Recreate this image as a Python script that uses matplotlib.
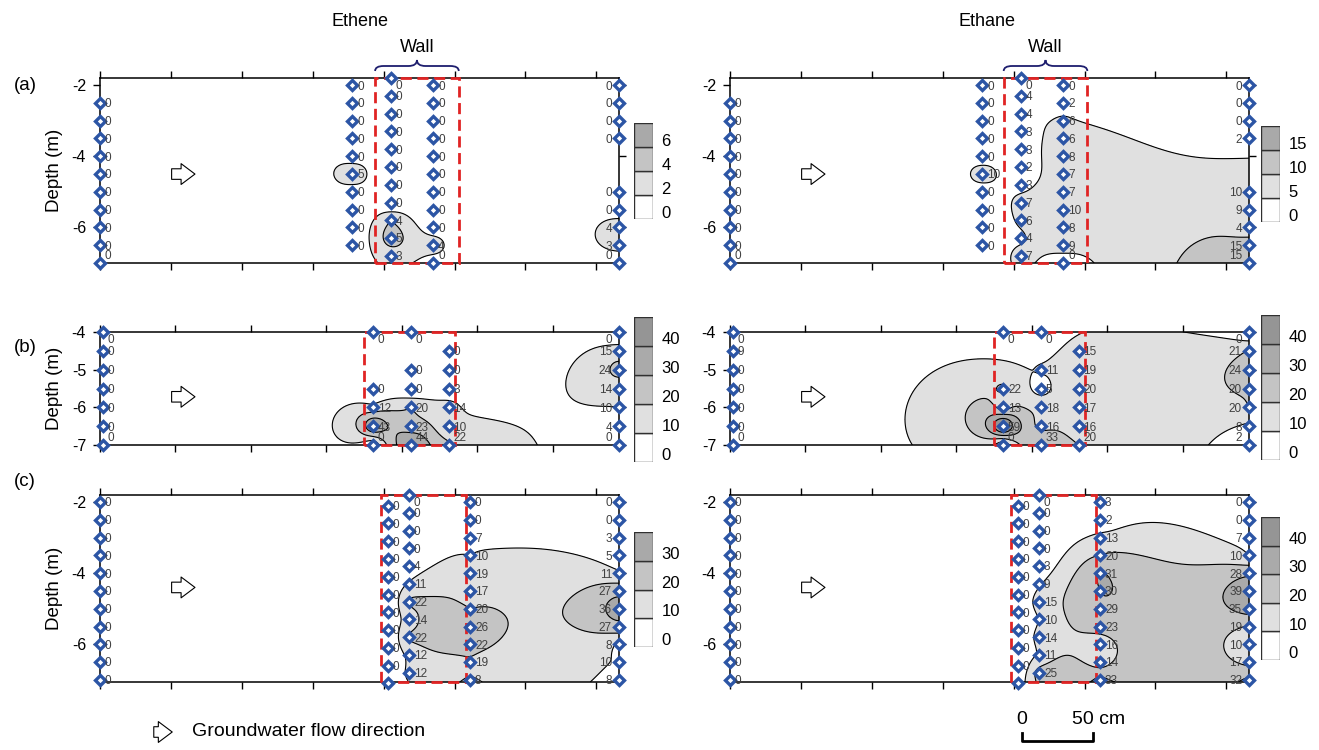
import numpy as np
import matplotlib
matplotlib.use('Agg')
import matplotlib.pyplot as plt
import matplotlib.transforms as mtrans
from matplotlib.patches import Rectangle, PathPatch, FancyArrowPatch
from matplotlib.path import Path

plt.rcParams['font.family'] = ['Liberation Sans', 'DejaVu Sans']
plt.rcParams['axes.unicode_minus'] = False

W, H = 1319, 750

# ---------------- Data ----------------
# row (a) / (c) depths (m)
d_full = [-2, -2.5, -3, -3.5, -4, -4.5, -5, -5.5, -6, -6.5, -7]
d_wall = [-1.8, -2.3, -2.8, -3.3, -3.8, -4.3, -4.8, -5.3, -5.8, -6.3, -6.8]
d_low = [-2.1, -2.6, -3.1, -3.6, -4.1, -4.6, -5.1, -5.6, -6.1, -6.6, -7.1]
d_a_edge = [-2, -2.5, -3, -3.5, -5, -5.5, -6, -6.5, -7]
# row (b) depths
d_b = [-4, -4.5, -5, -5.5, -6, -6.5, -7]
d_b1 = [-4, -5.5, -6, -6.5, -7]
d_b2 = [-4, -5, -5.5, -6, -6.5, -7]
d_b3 = [-4.5, -5, -5.5, -6, -6.5, -7]

# column positions (cm)
a_x = [0, 178, 205, 235, 366]
a_depths = [d_full[1:], d_full[:-1], d_wall, d_full, d_a_edge]
a_ethene = [[0] * 10,
            [0, 0, 0, 0, 0, 5, 0, 0, 0, 0],
            [0, 0, 0, 0, 0, 0, 0, 0, 4, 5, 3],
            [0, 0, 0, 0, 0, 0, 0, 0, 0, 4, 0],
            [0, 0, 0, 0, 0, 0, 4, 3, 0]]
a_ethane = [[0] * 10,
            [0, 0, 0, 0, 0, 10, 0, 0, 0, 0],
            [0, 4, 4, 3, 3, 2, 3, 7, 6, 4, 7],
            [0, 2, 6, 6, 8, 7, 7, 10, 8, 9, 0],
            [0, 0, 0, 2, 10, 9, 4, 15, 15]]

b_x = [2, 181, 206, 231, 344]
b_depths = [d_b, d_b1, d_b2, d_b3, d_b]
b_ethene = [[0] * 7,
            [0, 0, 12, 43, 0],
            [0, 0, 0, 20, 23, 44],
            [0, 0, 3, 14, 10, 22],
            [0, 15, 24, 14, 10, 4, 0]]
b_ethane = [[0, 9, 0, 0, 0, 0, 0],
            [0, 22, 13, 59, 0],
            [0, 11, 5, 18, 16, 33],
            [15, 19, 20, 17, 16, 20],
            [0, 21, 24, 20, 20, 8, 2]]

c_x = [0, 203, 218, 261, 366]
c_depths = [d_full, d_low, d_wall, d_full, d_full]
c_ethene = [[0] * 11,
            [0] * 10 + [4],
            [0, 0, 0, 0, 4, 11, 22, 14, 22, 12, 12],
            [0, 0, 7, 10, 19, 17, 20, 26, 22, 19, 8],
            [0, 0, 3, 5, 11, 27, 36, 27, 8, 10, 8]]
c_ethane = [[0] * 11,
            [0] * 10 + [4],
            [0, 0, 0, 0, 3, 9, 15, 10, 14, 11, 25],
            [3, 2, 13, 20, 31, 30, 29, 23, 16, 14, 33],
            [0, 0, 7, 10, 28, 39, 35, 19, 10, 17, 32]]

levels_a_ethene = [0, 2, 4, 6]
levels_a_ethane = [0, 5, 10, 15]
levels_b = [0, 10, 20, 30, 40]
levels_c_ethene = [0, 10, 20, 30]
levels_c_ethane = [0, 10, 20, 30, 40]

grays4 = ['white', '#e0e0e0', '#c4c4c4', '#a9a9a9']
grays5 = ['white', '#e0e0e0', '#c4c4c4', '#aaaaaa', '#959595']


def rect(x0, y0, x1, y1):
    return [x0 / W, 1 - y1 / H, (x1 - x0) / W, (y1 - y0) / H]


def grid_surface(x, y, z, gx, gy):
    # linear radial-basis surface (like kriging with a linear variogram)
    sx, sy = 1.42, 36.0
    px, py = x * sx, y * sy
    n = len(z)
    A = np.hypot(px[:, None] - px[None, :], py[:, None] - py[None, :])
    P = np.column_stack([np.ones(n), px, py])
    M = np.zeros((n + 3, n + 3))
    M[:n, :n] = A
    M[:n, n:] = P
    M[n:, :n] = P.T
    w = np.linalg.solve(M, np.concatenate([z, np.zeros(3)]))
    GX, GY = np.meshgrid(gx, gy)
    gpx, gpy = GX.ravel() * sx, GY.ravel() * sy
    R = np.hypot(gpx[:, None] - px[None, :], gpy[:, None] - py[None, :])
    G = R @ w[:n] + w[n] + w[n + 1] * gpx + w[n + 2] * gpy
    return GX, GY, G.reshape(GX.shape)


fig = plt.figure(figsize=(W / 100, H / 100), dpi=100)


def draw_panel(ax, cols_x, cols_d, vals, levels, colors, xlim, ylim, box, yticks, arrow_y):
    x = np.concatenate([[cx] * len(d) for cx, d in zip(cols_x, cols_d)]).astype(float)
    y = np.concatenate(cols_d).astype(float)
    z = np.concatenate(vals).astype(float)
    gx = np.linspace(xlim[0], xlim[1], 360)
    gy = np.linspace(ylim[0], ylim[1], 180)
    GX, GY, G = grid_surface(x, y, z, gx, gy)
    fl = [-1e3] + list(levels[1:]) + [1e3]
    ax.contourf(GX, GY, G, levels=fl, colors=colors, zorder=1)
    ax.contour(GX, GY, G, levels=levels[1:], colors='black', linewidths=0.8, zorder=2)

    ax.add_patch(Rectangle((box[0], ylim[0]), box[1] - box[0], ylim[1] - ylim[0], fill=False,
                           ec='#e02424', lw=2, ls=(0, (4, 2)), zorder=3, clip_on=False))

    for i, (cx, d, v) in enumerate(zip(cols_x, cols_d, vals)):
        ax.plot([cx] * len(d), d, 'D', ms=5, mfc='white', mec='#2c55a5', mew=2.4,
                zorder=5, clip_on=False)
        for dd, vv in zip(d, v):
            dy = -1
            if dd >= ylim[1] - 0.05:
                dy = -6
            elif dd <= ylim[0] + 0.05:
                dy = 5
            if i == len(cols_x) - 1:
                ax.annotate(str(vv), (cx, dd), xytext=(-5, dy), textcoords='offset points',
                            ha='right', va='center', fontsize=8.5, color='#404040', zorder=6)
            else:
                ax.annotate(str(vv), (cx, dd), xytext=(3.5, dy), textcoords='offset points',
                            ha='left', va='center', fontsize=8.5, color='#404040', zorder=6)

    ax.annotate('', xy=(0.183, arrow_y), xytext=(0.138, arrow_y),
                xycoords=('axes fraction', 'data'),
                arrowprops=dict(arrowstyle='simple,head_length=0.5,head_width=0.75,tail_width=0.38',
                                fc='white', ec='black', lw=0.8, shrinkA=0, shrinkB=0,
                                mutation_scale=20), zorder=4)

    ax.set_xlim(xlim)
    ax.set_ylim(ylim)
    ax.set_xticks(np.arange(0, xlim[1], 50))
    ax.set_xticklabels([])
    ax.set_yticks(yticks)
    ax.set_yticklabels([str(t) for t in yticks])
    ax.tick_params(axis='x', top=True, bottom=True, direction='out', length=5, width=1)
    ax.tick_params(axis='y', left=True, right=True, direction='out', length=5, width=1,
                   labelsize=11.5, pad=5)
    for s in ax.spines.values():
        s.set_linewidth(1.1)


def draw_key(px, labels, colors):
    kax = fig.add_axes(rect(*px))
    n = len(labels)
    kax.bar([0] * n, [1] * n, bottom=np.arange(n), width=1, color=colors,
            edgecolor='#303030', linewidth=1)
    kax.set_xlim(-0.5, 0.5)
    kax.set_ylim(0, n)
    kax.axis('off')
    for i, lab in enumerate(labels):
        kax.text(0.95, i + 0.22, str(lab), ha='left', va='center',
                 fontsize=12, clip_on=False)


def draw_brace(ax, x0, x1):
    tr = mtrans.blended_transform_factory(ax.transData, fig.transFigure)
    xm = (x0 + x1) / 2
    q = 6
    yl, ym, yt = 1 - 71 / H, 1 - 66 / H, 1 - 60 / H
    verts = [(x0, yl), (x0, ym), (x0 + q, ym), (xm - q, ym), (xm, ym), (xm, yt),
             (xm, ym), (xm + q, ym), (x1 - q, ym), (x1, ym), (x1, yl)]
    codes = [Path.MOVETO, Path.CURVE3, Path.CURVE3, Path.LINETO, Path.CURVE3, Path.CURVE3,
             Path.CURVE3, Path.CURVE3, Path.LINETO, Path.CURVE3, Path.CURVE3]
    ax.add_patch(PathPatch(Path(verts, codes), transform=tr, fill=False, ec='#1e1e6e',
                           lw=1.3, clip_on=False))
    ax.text(xm, 1 - 48 / H, 'Wall', transform=tr, ha='center', va='center', fontsize=13)


xa = (0, 366)
xb = (2, 344)
ya = (-7.0, -1.8)
yb = (-7.0, -4.0)
yc = (-7.06, -1.8)

ax_aL = fig.add_axes(rect(100, 78, 619, 263))
draw_panel(ax_aL, a_x, a_depths, a_ethene, levels_a_ethene, grays4, xa, ya, (194, 253), [-2, -4, -6], -4.5)
ax_aR = fig.add_axes(rect(730, 78, 1249, 263))
draw_panel(ax_aR, a_x, a_depths, a_ethane, levels_a_ethane, grays4, xa, ya, (193, 252), [-2, -4, -6], -4.5)
ax_bL = fig.add_axes(rect(100, 332, 619, 445))
draw_panel(ax_bL, b_x, b_depths, b_ethene, levels_b, grays5, xb, yb, (175, 235), [-4, -5, -6, -7], -5.72)
ax_bR = fig.add_axes(rect(730, 332, 1249, 445))
draw_panel(ax_bR, b_x, b_depths, b_ethane, levels_b, grays5, xb, yb, (175, 235), [-4, -5, -6, -7], -5.72)
ax_cL = fig.add_axes(rect(100, 495, 619, 682))
draw_panel(ax_cL, c_x, c_depths, c_ethene, levels_c_ethene, grays4, xa, yc, (198, 258), [-2, -4, -6], -4.4)
ax_cR = fig.add_axes(rect(730, 495, 1249, 682))
draw_panel(ax_cR, c_x, c_depths, c_ethane, levels_c_ethane, grays5, xa, yc, (198, 258), [-2, -4, -6], -4.4)

for ax in (ax_aL, ax_bL, ax_cL):
    ax.set_ylabel('Depth (m)', fontsize=13.5, labelpad=6)

draw_key((634, 123, 653, 219), levels_a_ethene, grays4)
draw_key((1261, 126, 1280, 222), levels_a_ethane, grays4)
draw_key((634, 317, 653, 462), levels_b, grays5)
draw_key((1261, 315, 1280, 460), levels_b, grays5)
draw_key((634, 532, 653, 647), levels_c_ethene, grays4)
draw_key((1261, 517, 1280, 660), levels_c_ethane, grays5)

draw_brace(ax_aL, 194, 253)
draw_brace(ax_aR, 193, 252)

fig.text(360 / W, 1 - 22 / H, 'Ethene', ha='center', va='center', fontsize=13)
fig.text(987 / W, 1 - 22 / H, 'Ethane', ha='center', va='center', fontsize=13)
for lab, yy in [('(a)', 85), ('(b)', 348), ('(c)', 481)]:
    fig.text(25 / W, 1 - yy / H, lab, ha='center', va='center', fontsize=13.5)

# flow direction legend
fig.patches.append(FancyArrowPatch(
    (151 / W, 1 - 732 / H), (175 / W, 1 - 732 / H), transform=fig.transFigure,
    arrowstyle='simple,head_length=0.5,head_width=0.75,tail_width=0.38',
    fc='white', ec='black', lw=0.8, mutation_scale=20, figure=fig))
fig.text(192 / W, 1 - 732 / H, 'Groundwater flow direction', ha='left', va='center', fontsize=14)

# scale bar (50 cm)
tr = mtrans.blended_transform_factory(ax_cR.transData, fig.transFigure)
sx0, sx1 = 206, 256
ax_cR.plot([sx0, sx0, sx1, sx1], [1 - 733 / H, 1 - 741 / H, 1 - 741 / H, 1 - 733 / H],
           color='black', lw=2, transform=tr, clip_on=False)
ax_cR.text(sx0, 1 - 720 / H, '0', transform=tr, ha='center', va='center', fontsize=14)
ax_cR.text((sx0 + sx1) / 2 + 10, 1 - 720 / H, '50 cm', transform=tr, ha='left', va='center', fontsize=14)

fig.savefig('out.png', dpi=100)
